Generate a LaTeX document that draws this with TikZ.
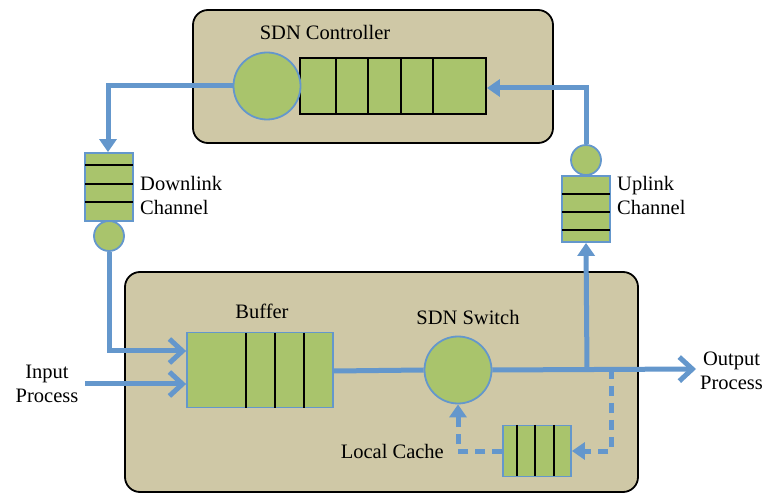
\documentclass[tikz,border=0pt]{standalone}
\usepackage{fontspec}
\setmainfont{Liberation Serif}
\usetikzlibrary{arrows.meta}
\definecolor{tan}{HTML}{CFC8A6}
\definecolor{qgreen}{HTML}{A9C46C}
\definecolor{lblue}{HTML}{6497CC}
\tikzset{
  panel/.style={draw=black, line width=1.8pt, fill=tan, rounded corners=15pt},
  qbox/.style={draw=black, line width=1.8pt, fill=qgreen},
  bqbox/.style={draw=lblue, line width=1.8pt, fill=qgreen},
  srv/.style={circle, draw=lblue, line width=1.8pt, fill=qgreen, inner sep=0pt},
  divider/.style={black, line width=2.4pt},
  flow/.style={lblue, line width=5pt},
  tri/.style={-{Triangle[length=13pt,width=17pt]}},
  barb/.style={-{Straight Barb[length=13pt,width=24pt,line width=5pt]}},
  cachedash/.style={dash pattern=on 10pt off 7pt},
  lbl/.style={font=\fontsize{20.5}{24}\selectfont, align=center, inner sep=0pt},
}
\begin{document}
\begin{tikzpicture}[x=1pt,y=-1pt]
\useasboundingbox (0,0) rectangle (769,494);

% panels
\draw[panel] (193,10) rectangle (553,143);
\draw[panel] (125,272) rectangle (638,492);

% controller
\node[lbl] (ctrltxt) at (325,32) {SDN Controller};
\node[qbox, minimum width=186pt, minimum height=56pt, inner sep=0pt] (cq) at (393,86) {};
\foreach \x in {336,368,401,433} \draw[divider] (\x,58) -- (\x,114);
\node[srv, minimum size=67pt] (cs) at (267,86) {};

% downlink channel
\node[bqbox, minimum width=48pt, minimum height=68pt, inner sep=0pt] (dq) at (109,187) {};
\foreach \y in {165,184,202} \draw[divider] (85,\y) -- (133,\y);
\node[srv, minimum size=30pt] (ds) at (109,236) {};
\node[lbl, anchor=west, align=left] (dtxt) at (140,195) {Downlink\\Channel};

% uplink channel
\node[bqbox, minimum width=48pt, minimum height=66pt, inner sep=0pt] (uq) at (586,209) {};
\foreach \y in {194,212,230} \draw[divider] (562,\y) -- (610,\y);
\node[srv, minimum size=30pt] (us) at (586,160) {};
\node[lbl, anchor=west, align=left] (utxt) at (617,195) {Uplink\\Channel};

% buffer
\node[lbl] (buftxt) at (262,311) {Buffer};
\node[bqbox, minimum width=146pt, minimum height=75pt, inner sep=0pt] (buf) at (260,370) {};
\foreach \x in {246,275,304} \draw[divider] (\x,333) -- (\x,408);

% switch
\node[lbl] (swtxt) at (468,317) {SDN Switch};
\node[srv, minimum size=67pt] (sw) at (458,370) {};

% local cache
\node[bqbox, minimum width=68pt, minimum height=51pt, inner sep=0pt] (lc) at (537,451) {};
\foreach \x in {517,535,554} \draw[divider] (\x,425) -- (\x,476);
\node[lbl, anchor=east] (lctxt) at (444,451) {Local Cache};

% outside labels
\node[lbl] (intxt) at (47,384) {Input\\Process};
\node[lbl, anchor=west] (outtxt) at (700,371) {Output\\Process};

% junction points
\coordinate (jup) at (587,369);
\coordinate (jdash) at (611,369);
\coordinate (outend) at (696,369);
\coordinate (instart) at (85,384);

% flows
\draw[flow] (buf.east |- 0,371) -- (sw.west);
\draw[flow, barb] (sw.east) -- (outend);
\draw[flow, tri] (jup) -- (uq.south);
\draw[flow, tri] (us.north) -- (586,88) -- (cq.east |- 0,88);
\draw[flow, tri] (cs.west) -- (108,86) -- (dq.north -| 108,0);
\draw[flow, barb] (ds.south) -- (109,351) -- (buf.west |- 0,351);
\draw[flow, barb] (instart) -- (buf.west |- instart);
\draw[flow, cachedash, tri] (jdash) -- (611,451) -- (lc.east);
\draw[flow, cachedash, tri] (lc.west) -- (458,451) -- (sw.south);
\end{tikzpicture}
\end{document}
